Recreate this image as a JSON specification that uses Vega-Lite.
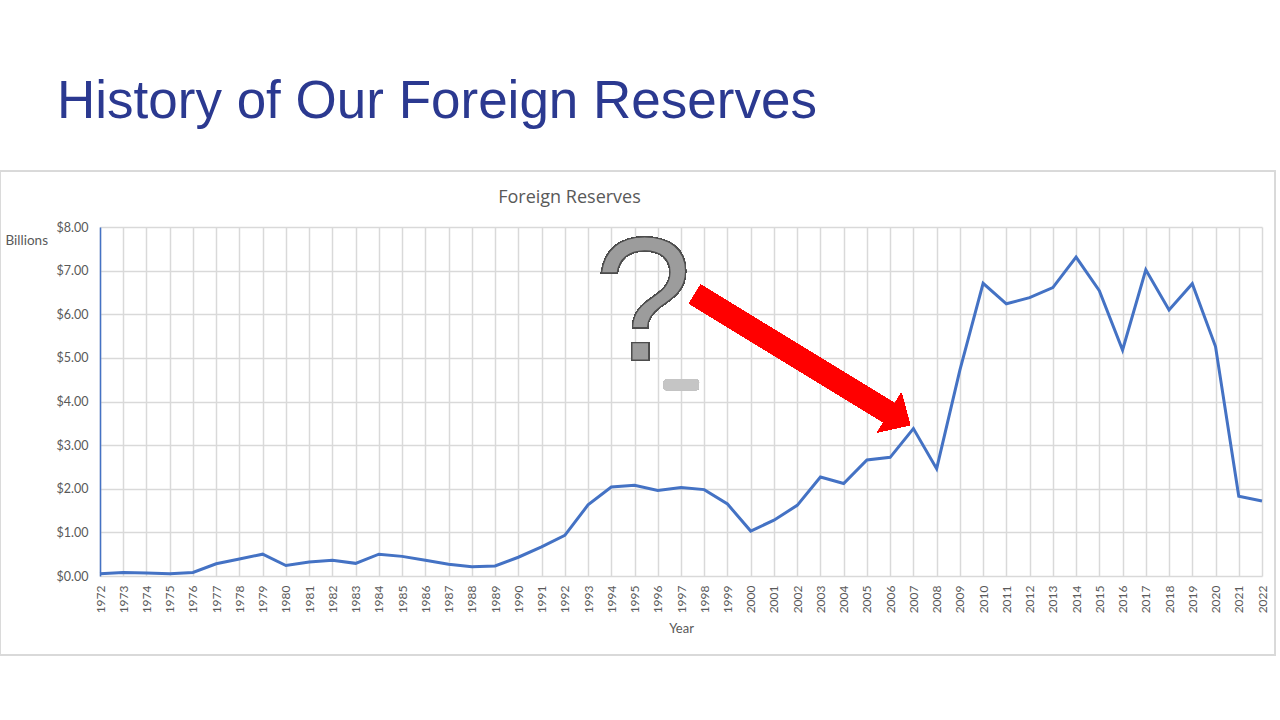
{
  "$schema": "https://vega.github.io/schema/vega-lite/v6.json",
  "autosize": {"type": "none"},
  "width": 1162,
  "height": 349,
  "padding": {"top": 227, "left": 100, "right": 18, "bottom": 144},
  "background": "white",
  "title": {
    "text": "History of Our Foreign Reserves",
    "anchor": "start",
    "frame": "group",
    "dx": -43,
    "offset": -1,
    "baseline": "alphabetic",
    "font": "Liberation Sans",
    "fontSize": 53,
    "fontWeight": "normal",
    "color": "#2B3990"
  },
  "config": {
    "view": {"stroke": null},
    "axis": {"labelFont": "Lato", "titleFont": "Lato", "labelColor": "#595959", "titleColor": "#595959", "titleFontWeight": "normal"}
  },
  "data": {
    "values": [
      {"Year": 1972, "Reserves": 0.05},
      {"Year": 1973, "Reserves": 0.08},
      {"Year": 1974, "Reserves": 0.07},
      {"Year": 1975, "Reserves": 0.05},
      {"Year": 1976, "Reserves": 0.08},
      {"Year": 1977, "Reserves": 0.28},
      {"Year": 1978, "Reserves": 0.39},
      {"Year": 1979, "Reserves": 0.50},
      {"Year": 1980, "Reserves": 0.24},
      {"Year": 1981, "Reserves": 0.32},
      {"Year": 1982, "Reserves": 0.36},
      {"Year": 1983, "Reserves": 0.29},
      {"Year": 1984, "Reserves": 0.50},
      {"Year": 1985, "Reserves": 0.45},
      {"Year": 1986, "Reserves": 0.36},
      {"Year": 1987, "Reserves": 0.27},
      {"Year": 1988, "Reserves": 0.21},
      {"Year": 1989, "Reserves": 0.23},
      {"Year": 1990, "Reserves": 0.43},
      {"Year": 1991, "Reserves": 0.67},
      {"Year": 1992, "Reserves": 0.93},
      {"Year": 1993, "Reserves": 1.63},
      {"Year": 1994, "Reserves": 2.04},
      {"Year": 1995, "Reserves": 2.08},
      {"Year": 1996, "Reserves": 1.96},
      {"Year": 1997, "Reserves": 2.03},
      {"Year": 1998, "Reserves": 1.98},
      {"Year": 1999, "Reserves": 1.65},
      {"Year": 2000, "Reserves": 1.03},
      {"Year": 2001, "Reserves": 1.28},
      {"Year": 2002, "Reserves": 1.62},
      {"Year": 2003, "Reserves": 2.27},
      {"Year": 2004, "Reserves": 2.12},
      {"Year": 2005, "Reserves": 2.66},
      {"Year": 2006, "Reserves": 2.72},
      {"Year": 2007, "Reserves": 3.38},
      {"Year": 2008, "Reserves": 2.46},
      {"Year": 2009, "Reserves": 4.72},
      {"Year": 2010, "Reserves": 6.71},
      {"Year": 2011, "Reserves": 6.24},
      {"Year": 2012, "Reserves": 6.38},
      {"Year": 2013, "Reserves": 6.61},
      {"Year": 2014, "Reserves": 7.31},
      {"Year": 2015, "Reserves": 6.54},
      {"Year": 2016, "Reserves": 5.18},
      {"Year": 2017, "Reserves": 7.02},
      {"Year": 2018, "Reserves": 6.10},
      {"Year": 2019, "Reserves": 6.70},
      {"Year": 2020, "Reserves": 5.26},
      {"Year": 2021, "Reserves": 1.83},
      {"Year": 2022, "Reserves": 1.72}
    ]
  },
  "layer": [
    {
      "mark": {"type": "rect", "fill": null, "filled": false, "stroke": "#d9d9d9", "strokeWidth": 1.5},
      "encoding": {
        "x": {"datum": 1967.7, "type": "quantitative", "scale": {"domain": [1972, 2022], "nice": false, "zero": false}, "axis": null},
        "x2": {"datum": 2022.56},
        "y": {"datum": 9.28, "type": "quantitative", "scale": {"domain": [0, 8], "nice": false}, "axis": null},
        "y2": {"datum": -1.81}
      }
    },
    {
      "mark": {"type": "line", "color": "#4472C4", "strokeWidth": 3, "strokeJoin": "miter"},
      "encoding": {
        "x": {
          "field": "Year", "type": "quantitative",
          "scale": {"domain": [1972, 2022], "nice": false, "zero": false},
          "axis": {
            "orient": "bottom",
            "values": [1972,1973,1974,1975,1976,1977,1978,1979,1980,1981,1982,1983,1984,1985,1986,1987,1988,1989,1990,1991,1992,1993,1994,1995,1996,1997,1998,1999,2000,2001,2002,2003,2004,2005,2006,2007,2008,2009,2010,2011,2012,2013,2014,2015,2016,2017,2018,2019,2020,2021,2022],
            "format": "d",
            "labelAngle": -90,
            "labelFontSize": 12,
            "labelPadding": 9,
            "labelOverlap": false,
            "labelFlush": false,
            "ticks": false,
            "domain": false,
            "grid": true,
            "gridColor": "#d9d9d9",
            "gridWidth": 1.5,
            "title": "Year",
            "titleFontSize": 13,
            "titleX": 581,
            "titleY": 52,
            "titleBaseline": "middle"
          }
        },
        "y": {
          "field": "Reserves", "type": "quantitative",
          "scale": {"domain": [0, 8], "nice": false},
          "axis": {
            "values": [0,1,2,3,4,5,6,7,8],
            "format": "$.2f",
            "labelFontSize": 12.5,
            "labelPadding": 12,
            "ticks": false,
            "domain": true,
            "domainColor": "#4472C4",
            "domainWidth": 1.5,
            "grid": true,
            "gridColor": "#d9d9d9",
            "gridWidth": 1.5,
            "title": "Billions",
            "titleAngle": 0,
            "titleFontSize": 13.5,
            "titleAlign": "left",
            "titleBaseline": "middle",
            "titleX": -95,
            "titleY": 13
          }
        }
      }
    },
    {
      "mark": {"type": "text", "text": "?", "font": "Liberation Sans", "fontSize": 176, "fontWeight": "normal", "fill": "#9C9C9C", "stroke": "#4d4d4d", "strokeWidth": 1.2, "align": "center", "baseline": "alphabetic"},
      "encoding": {
        "x": {
          "datum": 1995.37, "type": "quantitative",
          "scale": {"domain": [1972, 2022], "nice": false, "zero": false},
          "axis": {"orient": "top", "values": [], "labels": false, "ticks": false, "domain": false, "grid": false, "title": "Foreign Reserves", "titleFontSize": 18, "titleFont": "Open Sans", "titleColor": "#595959", "titleX": 469, "titleY": -30, "titleBaseline": "middle"}
        },
        "y": {"datum": 4.95, "type": "quantitative", "scale": {"domain": [0, 8], "nice": false}, "axis": null}
      }
    },
    {
      "mark": {"type": "rect", "fill": "#c4c4c4", "opacity": 0.8, "cornerRadius": 3},
      "encoding": {
        "x": {"datum": 1996.25, "type": "quantitative", "scale": {"domain": [1972, 2022], "nice": false, "zero": false}, "axis": null},
        "x2": {"datum": 1997.77},
        "y": {"datum": 4.51, "type": "quantitative", "scale": {"domain": [0, 8], "nice": false}, "axis": null},
        "y2": {"datum": 4.26}
      }
    },
    {
      "mark": {"type": "rule", "color": "#FF0000", "strokeWidth": 22, "strokeCap": "butt"},
      "encoding": {
        "x": {"datum": 1997.6, "type": "quantitative", "scale": {"domain": [1972, 2022], "nice": false, "zero": false}, "axis": null},
        "x2": {"datum": 2006.12},
        "y": {"datum": 6.46, "type": "quantitative", "scale": {"domain": [0, 8], "nice": false}, "axis": null},
        "y2": {"datum": 3.69}
      }
    },
    {
      "mark": {"type": "point", "filled": true, "color": "#FF0000", "opacity": 1, "shape": "M -0.5 -0.92 L 0.46 0 L -0.5 0.92 Z", "size": 2500, "angle": 31.2},
      "encoding": {
        "x": {"datum": 2006.43, "type": "quantitative", "scale": {"domain": [1972, 2022], "nice": false, "zero": false}, "axis": null},
        "y": {"datum": 3.6, "type": "quantitative", "scale": {"domain": [0, 8], "nice": false}, "axis": null}
      }
    }
  ],
  "resolve": {"axis": {"x": "independent", "y": "independent"}}
}
